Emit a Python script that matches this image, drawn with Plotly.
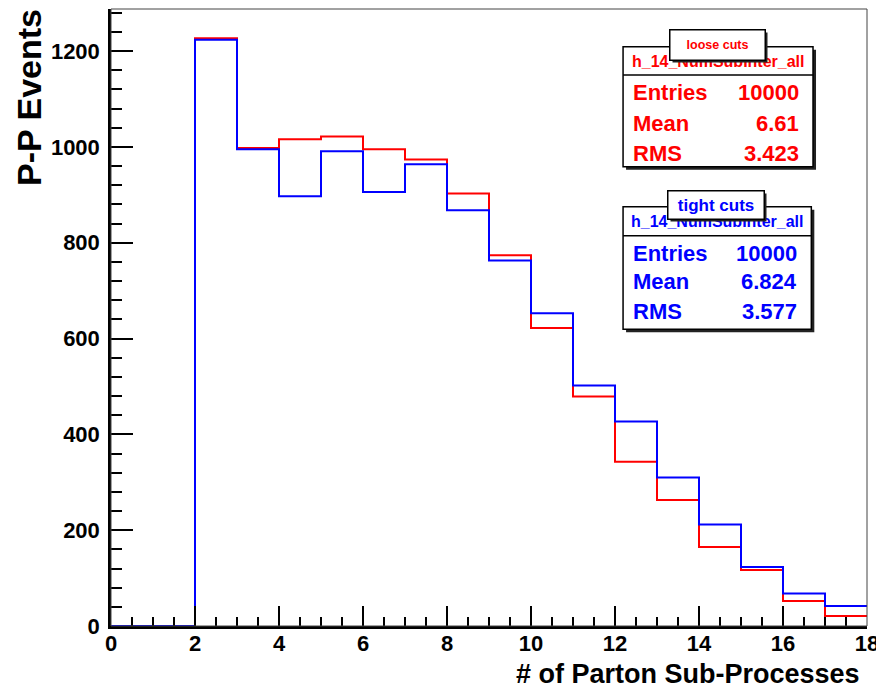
import plotly.graph_objects as go

# ---- data ----
bin_edges = list(range(0, 19))
loose_counts = [0, 0, 1227, 998, 1016, 1022, 995, 974, 903, 774, 622, 479, 343, 263, 165, 117, 52, 21]
tight_counts = [0, 0, 1224, 995, 897, 991, 906, 964, 868, 763, 653, 502, 427, 310, 212, 123, 68, 42]
x_ticks = [0, 2, 4, 6, 8, 10, 12, 14, 16, 18]
y_ticks = [0, 200, 400, 600, 800, 1000, 1200]
loose_stats = [("Entries", "10000"), ("Mean", "6.61"), ("RMS", "3.423")]
tight_stats = [("Entries", "10000"), ("Mean", "6.824"), ("RMS", "3.577")]
hist_name = "h_14_NumSubInter_all"

# page has an 8px body margin; figure placed at (8, 8)
OFF = 8
W, H = 876, 683
L, R, T, B = 110.5, 866.7, 9.0, 625.7   # plot area in page pixels
FONT = "Liberation Sans, Arial, Helvetica, sans-serif"


def px(x):
    return (x - L) / (R - L)


def py(y):
    return (B - y) / (B - T)


def step(counts):
    xs = bin_edges
    ys = counts + [counts[-1]]
    return xs, ys


fig = go.Figure()
for counts, color in [(loose_counts, "#ff0000"), (tight_counts, "#0000ff")]:
    xs, ys = step(counts)
    fig.add_trace(go.Scatter(x=xs, y=ys, mode="lines", line=dict(shape="hv", color=color, width=2),
                             showlegend=False, hoverinfo="skip"))

shapes = []
annotations = []

# plot frame (top/right thin)
shapes.append(dict(type="rect", xref="paper", yref="paper", x0=0, x1=1, y0=0, y1=1,
                   line=dict(color="#444444", width=1), layer="above"))


def stats_box(x0, x1, y0, y1, ydiv, yhead, rows, color, label, label_box, label_size):
    # shadow
    shapes.append(dict(type="rect", xref="paper", yref="paper", x0=px(x0 + 3), x1=px(x1 + 3),
                       y0=py(y1 + 3), y1=py(y0 + 3), fillcolor="#222222", line=dict(width=0), layer="above"))
    shapes.append(dict(type="rect", xref="paper", yref="paper", x0=px(x0), x1=px(x1),
                       y0=py(y1), y1=py(y0), fillcolor="white", line=dict(color="black", width=1.5),
                       layer="above"))
    shapes.append(dict(type="line", xref="paper", yref="paper", x0=px(x0), x1=px(x1),
                       y0=py(ydiv), y1=py(ydiv), line=dict(color="black", width=1.5), layer="above"))
    annotations.append(dict(xref="paper", yref="paper", x=px((x0 + x1) / 2), y=py(yhead),
                            text=hist_name, showarrow=False, xanchor="center", yanchor="middle",
                            font=dict(family=FONT, size=16, color=color, weight="bold")))
    for (name, val), yr in zip(rows[0], rows[1]):
        annotations.append(dict(xref="paper", yref="paper", x=px(x0 + 8), y=py(yr), text=name,
                                showarrow=False, xanchor="left", yanchor="middle",
                                font=dict(family=FONT, size=22, color=color, weight="bold")))
        annotations.append(dict(xref="paper", yref="paper", x=px(x1 - 12), y=py(yr), text=val,
                                showarrow=False, xanchor="right", yanchor="middle",
                                font=dict(family=FONT, size=22, color=color, weight="bold")))
    lx0, lx1, ly0, ly1 = label_box
    # label shadow
    annotations.append(dict(xref="paper", yref="paper", x=px((lx0 + lx1) / 2 + 3), y=py((ly0 + ly1) / 2 + 3),
                            text=" ", showarrow=False, xanchor="center", yanchor="middle",
                            width=lx1 - lx0, height=ly1 - ly0, bgcolor="#222222", borderpad=0,
                            font=dict(family=FONT, size=10)))
    annotations.append(dict(xref="paper", yref="paper", x=px((lx0 + lx1) / 2), y=py((ly0 + ly1) / 2),
                            text=label, showarrow=False, xanchor="center", yanchor="middle",
                            width=lx1 - lx0, height=ly1 - ly0, bgcolor="white", bordercolor="black",
                            borderwidth=1.5, borderpad=0,
                            font=dict(family=FONT, size=label_size, color=color, weight="bold")))


stats_box(622.7, 812.7, 46.7, 166.7, 75, 61.7, (loose_stats, [92.7, 123, 153]), "#ff0000",
          "loose cuts", (670, 764, 30, 59), 12.5)
stats_box(622.7, 811, 206.7, 329, 235.7, 221, (tight_stats, [253, 281.7, 311]), "#0000ff",
          "tight cuts", (668, 763, 191, 218), 17)

# axis titles
annotations.append(dict(xref="paper", yref="paper", x=px(862), y=py(674), text="# of Parton Sub-Processes",
                        showarrow=False, xanchor="right", yanchor="middle",
                        font=dict(family=FONT, size=27, color="black", weight="bold")))
annotations.append(dict(xref="paper", yref="paper", x=px(29), y=py(7), text="P-P Events", textangle=-90,
                        showarrow=False, xanchor="center", yanchor="top",
                        font=dict(family=FONT, size=34, color="black", weight="bold")))

fig.update_layout(
    width=W, height=H,
    margin=dict(l=L - OFF, r=W - (R - OFF), t=T - OFF, b=H - (B - OFF), pad=0),
    paper_bgcolor="white", plot_bgcolor="white",
    shapes=shapes, annotations=annotations,
    xaxis=dict(range=[0, 18], tickvals=x_ticks, ticktext=[str(v) for v in x_ticks],
               ticks="inside", ticklen=20, tickwidth=1.5, tickcolor="black",
               minor=dict(dtick=0.5, ticks="inside", ticklen=9, tickwidth=1.5, tickcolor="black"),
               showgrid=False, zeroline=False, showline=True, linecolor="black", linewidth=2.5,
               tickfont=dict(family=FONT, size=22, color="black", weight="bold"), ticklabelstandoff=-4,
               ticklabeloverflow="allow"),
    yaxis=dict(range=[0, 1288], tickvals=y_ticks, ticktext=[str(v) for v in y_ticks],
               ticks="inside", ticklen=22, tickwidth=1.5, tickcolor="black",
               minor=dict(dtick=40, ticks="inside", ticklen=11, tickwidth=1.5, tickcolor="black"),
               showgrid=False, zeroline=False, showline=True, linecolor="black", linewidth=2.5,
               tickfont=dict(family=FONT, size=22, color="black", weight="bold"), ticklabelstandoff=4,
               ticklabeloverflow="allow"),
)

fig.write_html("out.html")
